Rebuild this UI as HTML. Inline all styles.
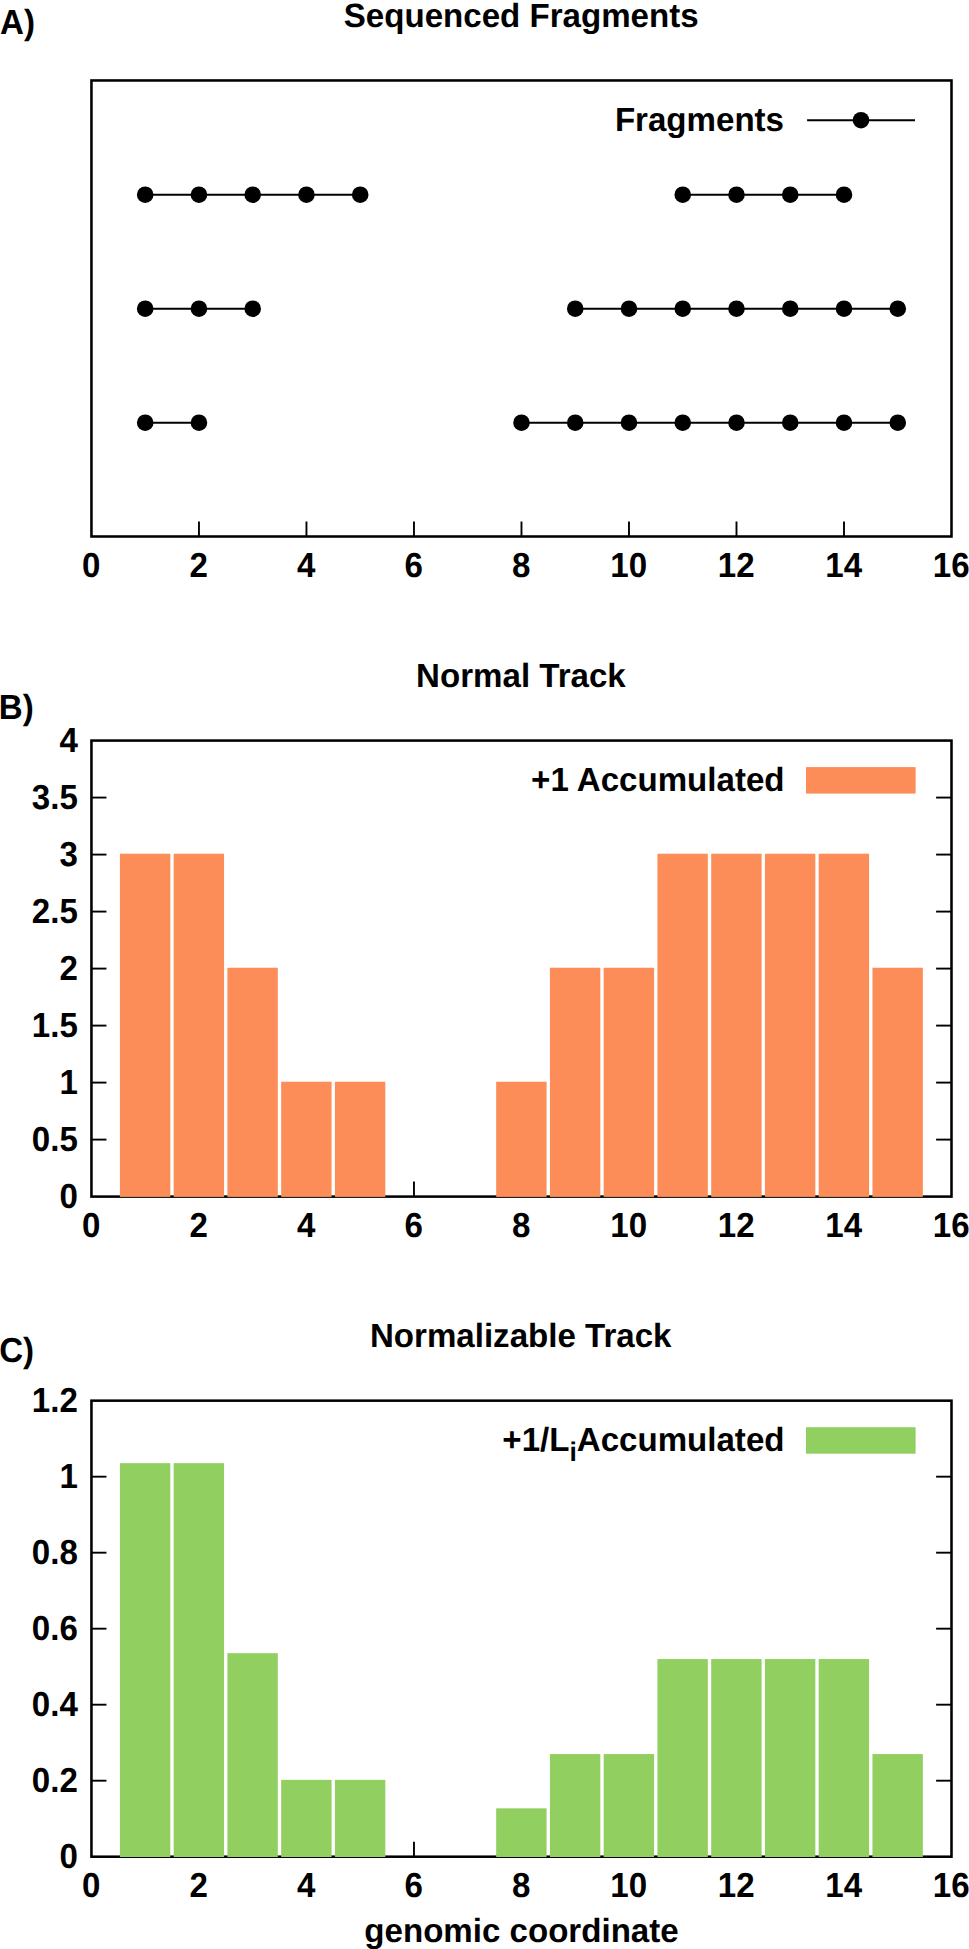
<!DOCTYPE html>
<html lang="en"><head><meta charset="utf-8"><title>Track accumulation figure</title>
<style>html,body{margin:0;padding:0;background:#fff}body{width:969px;height:1949px;overflow:hidden}svg{display:block}text{text-rendering:geometricPrecision;font-family:"Liberation Sans",sans-serif;font-weight:bold;font-size:33.1px;fill:#000}</style></head><body>
<svg width="969" height="1949" viewBox="0 0 969 1949">
<rect x="0" y="0" width="969" height="1949" fill="#fff"/>
<text transform="translate(0.00,34.00) scale(1,1.05)">A)</text>
<text transform="translate(521.20,27.00) scale(1,1.015)" text-anchor="middle">Sequenced Fragments</text>
<line x1="198.96" y1="536.50" x2="198.96" y2="521.50" stroke="#000" stroke-width="1.9"/>
<line x1="306.46" y1="536.50" x2="306.46" y2="521.50" stroke="#000" stroke-width="1.9"/>
<line x1="413.97" y1="536.50" x2="413.97" y2="521.50" stroke="#000" stroke-width="1.9"/>
<line x1="521.48" y1="536.50" x2="521.48" y2="521.50" stroke="#000" stroke-width="1.9"/>
<line x1="628.98" y1="536.50" x2="628.98" y2="521.50" stroke="#000" stroke-width="1.9"/>
<line x1="736.49" y1="536.50" x2="736.49" y2="521.50" stroke="#000" stroke-width="1.9"/>
<line x1="843.99" y1="536.50" x2="843.99" y2="521.50" stroke="#000" stroke-width="1.9"/>
<rect x="91.45" y="80.47" width="860.05" height="456.03" fill="none" stroke="#000" stroke-width="2.55"/>
<text transform="translate(91.15,577.00) scale(1,1.05)" text-anchor="middle">0</text>
<text transform="translate(198.66,577.00) scale(1,1.05)" text-anchor="middle">2</text>
<text transform="translate(306.16,577.00) scale(1,1.05)" text-anchor="middle">4</text>
<text transform="translate(413.67,577.00) scale(1,1.05)" text-anchor="middle">6</text>
<text transform="translate(521.18,577.00) scale(1,1.05)" text-anchor="middle">8</text>
<text transform="translate(628.68,577.00) scale(1,1.05)" text-anchor="middle">10</text>
<text transform="translate(736.19,577.00) scale(1,1.05)" text-anchor="middle">12</text>
<text transform="translate(843.69,577.00) scale(1,1.05)" text-anchor="middle">14</text>
<text transform="translate(951.20,577.00) scale(1,1.05)" text-anchor="middle">16</text>
<line x1="145.20" y1="194.73" x2="360.22" y2="194.73" stroke="#000" stroke-width="1.9"/>
<circle cx="145.20" cy="194.73" r="8.3" fill="#000"/>
<circle cx="198.96" cy="194.73" r="8.3" fill="#000"/>
<circle cx="252.71" cy="194.73" r="8.3" fill="#000"/>
<circle cx="306.46" cy="194.73" r="8.3" fill="#000"/>
<circle cx="360.22" cy="194.73" r="8.3" fill="#000"/>
<line x1="682.73" y1="194.73" x2="843.99" y2="194.73" stroke="#000" stroke-width="1.9"/>
<circle cx="682.73" cy="194.73" r="8.3" fill="#000"/>
<circle cx="736.49" cy="194.73" r="8.3" fill="#000"/>
<circle cx="790.24" cy="194.73" r="8.3" fill="#000"/>
<circle cx="843.99" cy="194.73" r="8.3" fill="#000"/>
<line x1="145.20" y1="308.74" x2="252.71" y2="308.74" stroke="#000" stroke-width="1.9"/>
<circle cx="145.20" cy="308.74" r="8.3" fill="#000"/>
<circle cx="198.96" cy="308.74" r="8.3" fill="#000"/>
<circle cx="252.71" cy="308.74" r="8.3" fill="#000"/>
<line x1="575.23" y1="308.74" x2="897.75" y2="308.74" stroke="#000" stroke-width="1.9"/>
<circle cx="575.23" cy="308.74" r="8.3" fill="#000"/>
<circle cx="628.98" cy="308.74" r="8.3" fill="#000"/>
<circle cx="682.73" cy="308.74" r="8.3" fill="#000"/>
<circle cx="736.49" cy="308.74" r="8.3" fill="#000"/>
<circle cx="790.24" cy="308.74" r="8.3" fill="#000"/>
<circle cx="843.99" cy="308.74" r="8.3" fill="#000"/>
<circle cx="897.75" cy="308.74" r="8.3" fill="#000"/>
<line x1="145.20" y1="422.74" x2="198.96" y2="422.74" stroke="#000" stroke-width="1.9"/>
<circle cx="145.20" cy="422.74" r="8.3" fill="#000"/>
<circle cx="198.96" cy="422.74" r="8.3" fill="#000"/>
<line x1="521.48" y1="422.74" x2="897.75" y2="422.74" stroke="#000" stroke-width="1.9"/>
<circle cx="521.48" cy="422.74" r="8.3" fill="#000"/>
<circle cx="575.23" cy="422.74" r="8.3" fill="#000"/>
<circle cx="628.98" cy="422.74" r="8.3" fill="#000"/>
<circle cx="682.73" cy="422.74" r="8.3" fill="#000"/>
<circle cx="736.49" cy="422.74" r="8.3" fill="#000"/>
<circle cx="790.24" cy="422.74" r="8.3" fill="#000"/>
<circle cx="843.99" cy="422.74" r="8.3" fill="#000"/>
<circle cx="897.75" cy="422.74" r="8.3" fill="#000"/>
<text transform="translate(784.00,131.00) scale(1,1.015)" text-anchor="end">Fragments</text>
<line x1="807.1" y1="120.2" x2="915.0" y2="120.2" stroke="#000" stroke-width="1.9"/>
<circle cx="861.0" cy="120.2" r="8.3" fill="#000"/>
<text transform="translate(-1.20,719.00) scale(1,1.05)">B)</text>
<text transform="translate(520.90,687.00) scale(1,1.015)" text-anchor="middle">Normal Track</text>
<line x1="198.96" y1="1196.60" x2="198.96" y2="1181.60" stroke="#000" stroke-width="1.9"/>
<line x1="306.46" y1="1196.60" x2="306.46" y2="1181.60" stroke="#000" stroke-width="1.9"/>
<line x1="413.97" y1="1196.60" x2="413.97" y2="1181.60" stroke="#000" stroke-width="1.9"/>
<line x1="521.48" y1="1196.60" x2="521.48" y2="1181.60" stroke="#000" stroke-width="1.9"/>
<line x1="628.98" y1="1196.60" x2="628.98" y2="1181.60" stroke="#000" stroke-width="1.9"/>
<line x1="736.49" y1="1196.60" x2="736.49" y2="1181.60" stroke="#000" stroke-width="1.9"/>
<line x1="843.99" y1="1196.60" x2="843.99" y2="1181.60" stroke="#000" stroke-width="1.9"/>
<rect x="91.45" y="740.57" width="860.05" height="456.03" fill="none" stroke="#000" stroke-width="2.55"/>
<rect x="119.90" y="853.73" width="50.40" height="343.17" fill="#fc8d59"/>
<rect x="173.66" y="853.73" width="50.40" height="343.17" fill="#fc8d59"/>
<rect x="227.41" y="967.74" width="50.40" height="229.16" fill="#fc8d59"/>
<rect x="281.16" y="1081.74" width="50.40" height="115.16" fill="#fc8d59"/>
<rect x="334.92" y="1081.74" width="50.40" height="115.16" fill="#fc8d59"/>
<rect x="496.18" y="1081.74" width="50.40" height="115.16" fill="#fc8d59"/>
<rect x="549.93" y="967.74" width="50.40" height="229.16" fill="#fc8d59"/>
<rect x="603.68" y="967.74" width="50.40" height="229.16" fill="#fc8d59"/>
<rect x="657.43" y="853.73" width="50.40" height="343.17" fill="#fc8d59"/>
<rect x="711.19" y="853.73" width="50.40" height="343.17" fill="#fc8d59"/>
<rect x="764.94" y="853.73" width="50.40" height="343.17" fill="#fc8d59"/>
<rect x="818.69" y="853.73" width="50.40" height="343.17" fill="#fc8d59"/>
<rect x="872.45" y="967.74" width="50.40" height="229.16" fill="#fc8d59"/>
<text transform="translate(77.80,1207.60) scale(1,1.05)" text-anchor="end">0</text>
<line x1="91.45" y1="1139.60" x2="106.45" y2="1139.60" stroke="#000" stroke-width="1.9"/>
<line x1="951.50" y1="1139.60" x2="936.10" y2="1139.60" stroke="#000" stroke-width="1.9"/>
<text transform="translate(77.80,1150.60) scale(1,1.05)" text-anchor="end">0.5</text>
<line x1="91.45" y1="1082.59" x2="106.45" y2="1082.59" stroke="#000" stroke-width="1.9"/>
<line x1="951.50" y1="1082.59" x2="936.10" y2="1082.59" stroke="#000" stroke-width="1.9"/>
<text transform="translate(77.80,1093.59) scale(1,1.05)" text-anchor="end">1</text>
<line x1="91.45" y1="1025.59" x2="106.45" y2="1025.59" stroke="#000" stroke-width="1.9"/>
<line x1="951.50" y1="1025.59" x2="936.10" y2="1025.59" stroke="#000" stroke-width="1.9"/>
<text transform="translate(77.80,1036.59) scale(1,1.05)" text-anchor="end">1.5</text>
<line x1="91.45" y1="968.59" x2="106.45" y2="968.59" stroke="#000" stroke-width="1.9"/>
<line x1="951.50" y1="968.59" x2="936.10" y2="968.59" stroke="#000" stroke-width="1.9"/>
<text transform="translate(77.80,979.59) scale(1,1.05)" text-anchor="end">2</text>
<line x1="91.45" y1="911.58" x2="106.45" y2="911.58" stroke="#000" stroke-width="1.9"/>
<line x1="951.50" y1="911.58" x2="936.10" y2="911.58" stroke="#000" stroke-width="1.9"/>
<text transform="translate(77.80,922.58) scale(1,1.05)" text-anchor="end">2.5</text>
<line x1="91.45" y1="854.58" x2="106.45" y2="854.58" stroke="#000" stroke-width="1.9"/>
<line x1="951.50" y1="854.58" x2="936.10" y2="854.58" stroke="#000" stroke-width="1.9"/>
<text transform="translate(77.80,865.58) scale(1,1.05)" text-anchor="end">3</text>
<line x1="91.45" y1="797.57" x2="106.45" y2="797.57" stroke="#000" stroke-width="1.9"/>
<line x1="951.50" y1="797.57" x2="936.10" y2="797.57" stroke="#000" stroke-width="1.9"/>
<text transform="translate(77.80,808.57) scale(1,1.05)" text-anchor="end">3.5</text>
<text transform="translate(77.80,751.57) scale(1,1.05)" text-anchor="end">4</text>
<text transform="translate(91.15,1237.00) scale(1,1.05)" text-anchor="middle">0</text>
<text transform="translate(198.66,1237.00) scale(1,1.05)" text-anchor="middle">2</text>
<text transform="translate(306.16,1237.00) scale(1,1.05)" text-anchor="middle">4</text>
<text transform="translate(413.67,1237.00) scale(1,1.05)" text-anchor="middle">6</text>
<text transform="translate(521.18,1237.00) scale(1,1.05)" text-anchor="middle">8</text>
<text transform="translate(628.68,1237.00) scale(1,1.05)" text-anchor="middle">10</text>
<text transform="translate(736.19,1237.00) scale(1,1.05)" text-anchor="middle">12</text>
<text transform="translate(843.69,1237.00) scale(1,1.05)" text-anchor="middle">14</text>
<text transform="translate(951.20,1237.00) scale(1,1.05)" text-anchor="middle">16</text>
<text transform="translate(784.50,791.00) scale(1,1.015)" text-anchor="end">+1 Accumulated</text>
<rect x="806.0" y="767.1" width="109.6" height="26.5" fill="#fc8d59"/>
<text transform="translate(-0.80,1362.00) scale(1,1.05)">C)</text>
<text transform="translate(520.70,1347.00) scale(1,1.015)" text-anchor="middle">Normalizable Track</text>
<line x1="198.96" y1="1856.70" x2="198.96" y2="1841.70" stroke="#000" stroke-width="1.9"/>
<line x1="306.46" y1="1856.70" x2="306.46" y2="1841.70" stroke="#000" stroke-width="1.9"/>
<line x1="413.97" y1="1856.70" x2="413.97" y2="1841.70" stroke="#000" stroke-width="1.9"/>
<line x1="521.48" y1="1856.70" x2="521.48" y2="1841.70" stroke="#000" stroke-width="1.9"/>
<line x1="628.98" y1="1856.70" x2="628.98" y2="1841.70" stroke="#000" stroke-width="1.9"/>
<line x1="736.49" y1="1856.70" x2="736.49" y2="1841.70" stroke="#000" stroke-width="1.9"/>
<line x1="843.99" y1="1856.70" x2="843.99" y2="1841.70" stroke="#000" stroke-width="1.9"/>
<rect x="91.45" y="1400.67" width="860.05" height="456.03" fill="none" stroke="#000" stroke-width="2.55"/>
<rect x="119.90" y="1463.16" width="50.40" height="393.84" fill="#91cf60"/>
<rect x="173.66" y="1463.16" width="50.40" height="393.84" fill="#91cf60"/>
<rect x="227.41" y="1653.17" width="50.40" height="203.83" fill="#91cf60"/>
<rect x="281.16" y="1779.85" width="50.40" height="77.15" fill="#91cf60"/>
<rect x="334.92" y="1779.85" width="50.40" height="77.15" fill="#91cf60"/>
<rect x="496.18" y="1808.35" width="50.40" height="48.65" fill="#91cf60"/>
<rect x="549.93" y="1754.06" width="50.40" height="102.94" fill="#91cf60"/>
<rect x="603.68" y="1754.06" width="50.40" height="102.94" fill="#91cf60"/>
<rect x="657.43" y="1659.05" width="50.40" height="197.95" fill="#91cf60"/>
<rect x="711.19" y="1659.05" width="50.40" height="197.95" fill="#91cf60"/>
<rect x="764.94" y="1659.05" width="50.40" height="197.95" fill="#91cf60"/>
<rect x="818.69" y="1659.05" width="50.40" height="197.95" fill="#91cf60"/>
<rect x="872.45" y="1754.06" width="50.40" height="102.94" fill="#91cf60"/>
<text transform="translate(77.80,1867.70) scale(1,1.05)" text-anchor="end">0</text>
<line x1="91.45" y1="1780.69" x2="106.45" y2="1780.69" stroke="#000" stroke-width="1.9"/>
<line x1="951.50" y1="1780.69" x2="936.10" y2="1780.69" stroke="#000" stroke-width="1.9"/>
<text transform="translate(77.80,1791.69) scale(1,1.05)" text-anchor="end">0.2</text>
<line x1="91.45" y1="1704.69" x2="106.45" y2="1704.69" stroke="#000" stroke-width="1.9"/>
<line x1="951.50" y1="1704.69" x2="936.10" y2="1704.69" stroke="#000" stroke-width="1.9"/>
<text transform="translate(77.80,1715.69) scale(1,1.05)" text-anchor="end">0.4</text>
<line x1="91.45" y1="1628.68" x2="106.45" y2="1628.68" stroke="#000" stroke-width="1.9"/>
<line x1="951.50" y1="1628.68" x2="936.10" y2="1628.68" stroke="#000" stroke-width="1.9"/>
<text transform="translate(77.80,1639.68) scale(1,1.05)" text-anchor="end">0.6</text>
<line x1="91.45" y1="1552.68" x2="106.45" y2="1552.68" stroke="#000" stroke-width="1.9"/>
<line x1="951.50" y1="1552.68" x2="936.10" y2="1552.68" stroke="#000" stroke-width="1.9"/>
<text transform="translate(77.80,1563.68) scale(1,1.05)" text-anchor="end">0.8</text>
<line x1="91.45" y1="1476.68" x2="106.45" y2="1476.68" stroke="#000" stroke-width="1.9"/>
<line x1="951.50" y1="1476.68" x2="936.10" y2="1476.68" stroke="#000" stroke-width="1.9"/>
<text transform="translate(77.80,1487.68) scale(1,1.05)" text-anchor="end">1</text>
<text transform="translate(77.80,1411.67) scale(1,1.05)" text-anchor="end">1.2</text>
<text transform="translate(91.15,1897.00) scale(1,1.05)" text-anchor="middle">0</text>
<text transform="translate(198.66,1897.00) scale(1,1.05)" text-anchor="middle">2</text>
<text transform="translate(306.16,1897.00) scale(1,1.05)" text-anchor="middle">4</text>
<text transform="translate(413.67,1897.00) scale(1,1.05)" text-anchor="middle">6</text>
<text transform="translate(521.18,1897.00) scale(1,1.05)" text-anchor="middle">8</text>
<text transform="translate(628.68,1897.00) scale(1,1.05)" text-anchor="middle">10</text>
<text transform="translate(736.19,1897.00) scale(1,1.05)" text-anchor="middle">12</text>
<text transform="translate(843.69,1897.00) scale(1,1.05)" text-anchor="middle">14</text>
<text transform="translate(951.20,1897.00) scale(1,1.05)" text-anchor="middle">16</text>
<text transform="translate(784.50,1451.00) scale(1,1.015)" text-anchor="end">+1/L<tspan font-size="26.48px" dy="9.5">i</tspan><tspan dy="-9.5">Accumulated</tspan></text>
<rect x="806.0" y="1427.2" width="109.6" height="26.5" fill="#91cf60"/>
<text transform="translate(521.50,1942.00) scale(1,1.015)" text-anchor="middle">genomic coordinate</text>
</svg></body></html>
